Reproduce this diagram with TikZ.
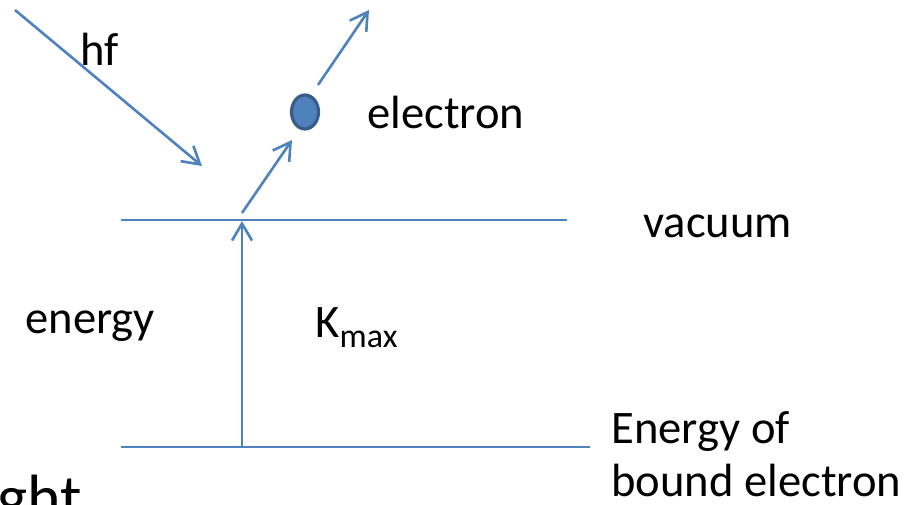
\documentclass[tikz,border=0pt]{standalone}
\usepackage{fontspec}
\setmainfont{Carlito}
\usetikzlibrary{arrows.meta,positioning,shapes.geometric}
\definecolor{levelblue}{HTML}{4F81BD}
\definecolor{levelnavy}{HTML}{385D8A}

\begin{document}
\begin{tikzpicture}[
  x=0.5pt,y=-0.5pt,
  lbl/.style={font=\fontsize{23.3}{26.5}\selectfont,inner sep=0pt,anchor=base west},
  lvl/.style={draw=levelblue,line width=1.3pt},
  fl/.style={-{Straight Barb[length=8.5pt,width=10pt,line width=1.3pt]},draw=levelblue,line width=1.3pt},
  dot/.style={ellipse,draw=levelnavy,fill=levelblue,line width=1.6pt,minimum width=13.5pt,minimum height=17pt,inner sep=0pt},
]
\useasboundingbox (0,0) rectangle (922,504);
\clip (0,0) rectangle (922,504);
% energy levels
\coordinate (vacL) at (121,220);
\coordinate (vacR) at (567,220);
\coordinate (bndL) at (121,447);
\coordinate (bndR) at (590,447);
\coordinate (kbot) at (242,447);
\coordinate (ktop) at (242,221);
% photon and electron path
\coordinate (hfA) at (15,10);
\coordinate (hfB) at (202,166);
\coordinate (eA) at (242,213);
\coordinate (eB) at (292,140);
\coordinate (outA) at (318,85);
\coordinate (outB) at (369,10);
\node[dot] (el) at (305,112) {};
\draw[lvl] (vacL) -- (vacR);
\draw[lvl] (bndL) -- (bndR);
\draw[fl] (kbot) -- (ktop);
\draw[fl] (hfA) -- (hfB);
\draw[fl] (eA) -- (eB);
\draw[fl] (outA) -- (outB);
% labels
\node[lbl] (hf) at (80,65) {hf};
\node[lbl] (eltxt) at (367,128) {electron};
\node[lbl] (vac) at (643,237) {vacuum};
\node[lbl] (en) at (25,333) {energy};
\node[lbl] (kmax) at (315,337) {K\raisebox{-5pt}{\fontsize{17}{20}\selectfont max}};
\node[lbl,align=left] (bnd) at (611,496) {Energy of\\bound electron};
\node[lbl,font=\fontsize{32}{36}\selectfont] (ght) at (-3,519) {ght};
\end{tikzpicture}
\end{document}
